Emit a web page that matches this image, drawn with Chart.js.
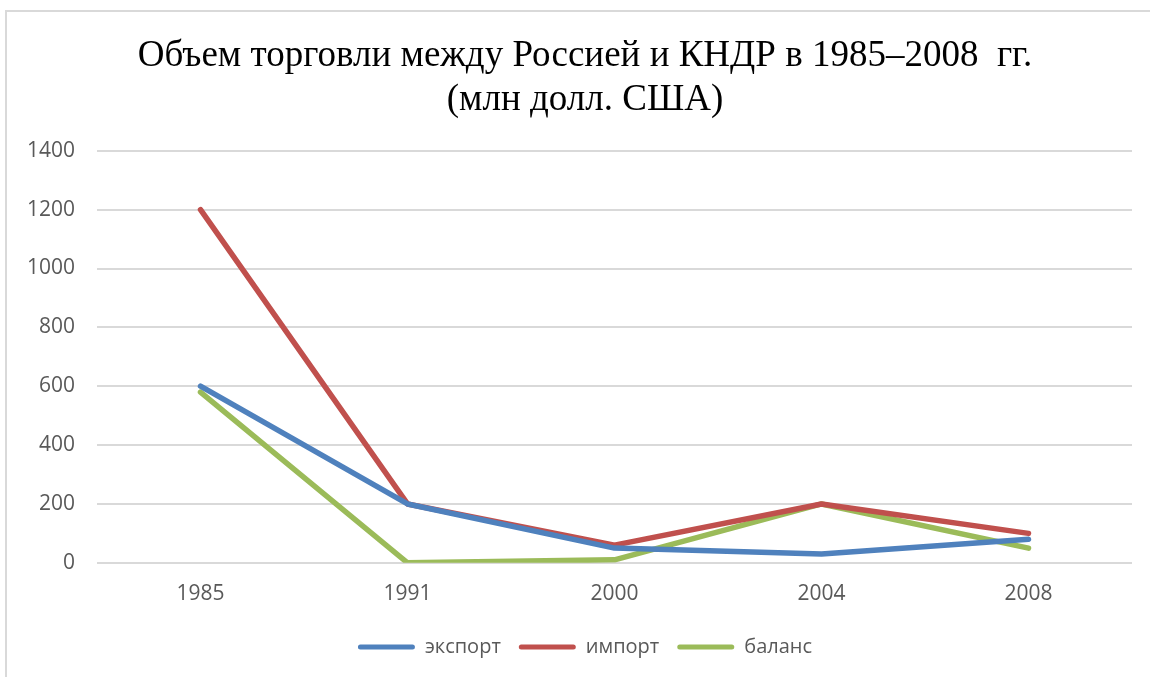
<!DOCTYPE html>
<html><head><meta charset="utf-8">
<script src="https://cdn.jsdelivr.net/npm/chart.js@4.4.1/dist/chart.umd.min.js"></script>
<style>
html,body{margin:0;padding:0;background:#fff;overflow:hidden}
#wrap{position:relative;width:1150px;height:677px}
#frame{position:absolute;left:5px;top:10px;right:-10px;bottom:-10px;border-top:2px solid #d9d9d9;border-left:2px solid #d9d9d9}
canvas{position:absolute;left:0;top:0}
</style></head><body>
<div id="wrap"><div id="frame"></div><canvas id="c" width="1150" height="677"></canvas></div>
<script>
const years = ['1985', '1991', '2000', '2004', '2008'];
const exportValues = [600, 200, 50, 30, 80];
const importValues = [1200, 200, 60, 200, 100];
const balanceValues = [580, 0, 10, 200, 50];
const seriesNames = ['экспорт', 'импорт', 'баланс'];
const seriesColors = ['#4F81BD', '#C0504D', '#9BBB59'];
const titleLines = ['Объем торговли между Россией и КНДР в 1985–2008  гг.', '(млн долл. США)'];
const yMin = 0, yMax = 1400, yStep = 200;

const valuesList = [exportValues, importValues, balanceValues];
const datasets = seriesNames.map((name, i) => ({
  label: name,
  data: valuesList[i],
  borderColor: seriesColors[i],
  backgroundColor: seriesColors[i],
  borderWidth: 5.5,
  pointRadius: 0,
  pointHoverRadius: 0,
  fill: false,
  tension: 0,
  borderCapStyle: 'round',
  borderJoinStyle: 'round'
}));

new Chart(document.getElementById('c'), {
  type: 'line',
  data: { labels: years, datasets },
  options: {
    responsive: false,
    animation: false,
    devicePixelRatio: 1,
    layout: { padding: { left: 38, right: 18, top: 20, bottom: 10 } },
    plugins: {
      tooltip: { enabled: false },
      title: {
        display: true,
        text: titleLines,
        color: '#000',
        font: { family: 'Liberation Serif', size: 37, weight: 'normal', lineHeight: 1.2 },
        padding: { top: 14, bottom: 28 }
      },
      legend: {
        position: 'bottom',
        labels: {
          color: '#595959',
          font: { family: 'Open Sans', size: 20 },
          boxWidth: 57,
          boxHeight: 5,
          useBorderRadius: true,
          borderRadius: 2.5,
          padding: 18,
          generateLabels(chart) {
            const items = Chart.defaults.plugins.legend.labels.generateLabels(chart);
            items.forEach(it => { it.fillStyle = it.strokeStyle; it.lineWidth = 0; });
            return items;
          }
        }
      }
    },
    scales: {
      x: {
        offset: true,
        grid: { display: false },
        border: { display: false },
        ticks: { color: '#595959', font: { family: 'Open Sans', size: 21 }, padding: 11 },
        afterFit(s) { s.height += 1; }
      },
      y: {
        min: yMin, max: yMax,
        ticks: { stepSize: yStep, color: '#595959', font: { family: 'Open Sans', size: 21 }, padding: 22,
                 callback: v => String(v) },
        grid: { color: '#d9d9d9', lineWidth: 2, drawTicks: false },
        border: { display: false },
        afterFit(s) { s.width = 59; s._computeLabelArea = () => undefined; }
      }
    }
  }
});
</script>
</body></html>
